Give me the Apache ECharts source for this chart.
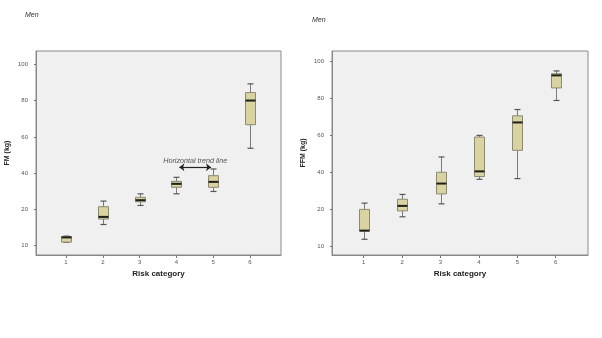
<!DOCTYPE html>
<html>
<head>
<meta charset="utf-8">
<script src="https://cdn.jsdelivr.net/npm/echarts@6/dist/echarts.min.js"></script>
<style>
  html, body { margin: 0; padding: 0; background: #ffffff; }
  #chart { width: 602px; height: 338px; }
</style>
</head>
<body>
<div id="chart"></div>
<script>
// Risk categories on the x axis
const categories = [1, 2, 3, 4, 5, 6];

// y tick positions and the labels printed at them
const yTickValues = [0, 20, 40, 60, 80, 100];
const yTickLabels = ['10', '20', '40', '60', '80', '100'];

// Fat mass (FM, kg) per risk category: whisker ends, quartiles, median
const fmMin    = [1.9, 11.7, 22.2, 28.6, 29.9, 53.7];
const fmQ1     = [2.0, 14.7, 24.2, 32.2, 32.2, 66.7];
const fmMedian = [4.6, 15.9, 25.1, 34.1, 35.2, 80.0];
const fmQ3     = [5.1, 21.5, 26.7, 35.5, 38.6, 84.4];
const fmMax    = [5.3, 24.6, 28.6, 37.7, 42.3, 89.2];

// Fat-free mass (FFM, kg) per risk category
const ffmMin    = [3.8, 16.0, 23.0, 36.3, 36.7, 79.0];
const ffmQ1     = [8.3, 19.2, 28.4, 37.8, 52.0, 85.8];
const ffmMedian = [8.5, 21.9, 34.0, 40.6, 67.1, 92.6];
const ffmQ3     = [20.0, 25.5, 40.1, 59.2, 70.7, 93.5];
const ffmMax    = [23.4, 28.1, 48.4, 60.1, 74.1, 95.0];

// Annotation between categories 4 and 5 of the FM panel
const trendText = 'Horizontal trend line';
const trendFrom = [4.08, 43.2];
const trendTo   = [4.94, 43.2];

function rows(mins, q1s, meds, q3s, maxs) {
  return categories.map((c, i) => [c, mins[i], q1s[i], meds[i], q3s[i], maxs[i]]);
}

const BOX_HALF = 5;
const CAP_HALF = 3;

function renderBox(params, api) {
  const x = api.value(0);
  const pMin = api.coord([x, api.value(1)]);
  const pQ1  = api.coord([x, api.value(2)]);
  const pMed = api.coord([x, api.value(3)]);
  const pQ3  = api.coord([x, api.value(4)]);
  const pMax = api.coord([x, api.value(5)]);
  const cx = Math.round(pMed[0]) + 0.5;
  const whisker = { stroke: '#7a7a7a', lineWidth: 1 };
  return {
    type: 'group',
    children: [
      { type: 'line', shape: { x1: cx, y1: pQ3[1], x2: cx, y2: pMax[1] }, style: whisker },
      { type: 'line', shape: { x1: cx, y1: pQ1[1], x2: cx, y2: pMin[1] }, style: whisker },
      { type: 'line', shape: { x1: cx - CAP_HALF, y1: pMax[1], x2: cx + CAP_HALF, y2: pMax[1] },
        style: { stroke: '#555', lineWidth: 1.2 } },
      { type: 'line', shape: { x1: cx - CAP_HALF, y1: pMin[1], x2: cx + CAP_HALF, y2: pMin[1] },
        style: { stroke: '#555', lineWidth: 1.2 } },
      { type: 'rect', shape: { x: cx - BOX_HALF, y: pQ3[1], width: BOX_HALF * 2, height: Math.max(pQ1[1] - pQ3[1], 1) },
        style: { fill: '#d8d3a1', stroke: '#8c8a70', lineWidth: 1 } },
      { type: 'line', shape: { x1: cx - BOX_HALF, y1: pMed[1], x2: cx + BOX_HALF, y2: pMed[1] },
        style: { stroke: '#1e1e1a', lineWidth: 2 } }
    ]
  };
}

const labelColor = '#555';

function xAxisFor(gridIndex, min, max) {
  return {
    type: 'value', gridIndex: gridIndex, min: min, max: max, position: 'bottom',
    name: 'Risk category', nameLocation: 'middle', nameGap: 14,
    nameTextStyle: { fontFamily: 'Arial, Liberation Sans', fontWeight: 'bold', fontSize: 8, color: '#222' },
    axisLine: { show: true, onZero: false, lineStyle: { color: '#888', width: 1 } },
    axisTick: { show: true, length: 3, customValues: categories, lineStyle: { color: '#777' } },
    axisLabel: { customValues: categories, fontSize: 6, color: labelColor, margin: 4,
                 fontFamily: 'Arial, Liberation Sans' },
    splitLine: { show: false }
  };
}

function yAxisFor(gridIndex, min, max, title) {
  return {
    type: 'value', gridIndex: gridIndex, min: min, max: max, position: 'left',
    name: title, nameLocation: 'middle', nameGap: 25, nameRotate: 90,
    nameTextStyle: { fontFamily: 'Arial, Liberation Sans', fontWeight: 'bold', fontSize: 7, color: '#222' },
    axisLine: { show: true, onZero: false, lineStyle: { color: '#888', width: 1 } },
    axisTick: { show: true, length: 2, customValues: yTickValues, lineStyle: { color: '#777' } },
    axisLabel: {
      customValues: yTickValues, fontSize: 6, color: labelColor, margin: 8,
      fontFamily: 'Arial, Liberation Sans',
      formatter: v => yTickLabels[yTickValues.indexOf(v)]
    },
    splitLine: { show: false }
  };
}

const chart = echarts.init(document.getElementById('chart'), null, { renderer: 'canvas' });

chart.setOption({
  animation: false,
  backgroundColor: '#ffffff',
  grid: [
    { left: 36, top: 51, width: 245, height: 204, show: true,
      backgroundColor: '#f0f0f0', borderColor: '#8a8a8a', borderWidth: 1 },
    { left: 332, top: 51, width: 256, height: 204, show: true,
      backgroundColor: '#f0f0f0', borderColor: '#8a8a8a', borderWidth: 1 }
  ],
  xAxis: [
    xAxisFor(0, 0.185, 6.842),
    xAxisFor(1, 0.174, 6.84)
  ],
  yAxis: [
    yAxisFor(0, -5.1, 107.3, 'FM (kg)'),
    yAxisFor(1, -4.7, 105.8, 'FFM (kg)')
  ],
  graphic: [
    { type: 'text', left: 25, top: 12,
      style: { text: 'Men', fontSize: 7, fontStyle: 'italic', fill: '#333', fontFamily: 'Arial, Liberation Sans' } },
    { type: 'text', left: 312, top: 17,
      style: { text: 'Men', fontSize: 7, fontStyle: 'italic', fill: '#333', fontFamily: 'Arial, Liberation Sans' } }
  ],
  series: [
    {
      type: 'custom', name: 'FM', xAxisIndex: 0, yAxisIndex: 0,
      renderItem: renderBox,
      encode: { x: 0, y: [1, 2, 3, 4, 5] },
      data: rows(fmMin, fmQ1, fmMedian, fmQ3, fmMax),
      silent: true
    },
    {
      type: 'custom', name: 'FFM', xAxisIndex: 1, yAxisIndex: 1,
      renderItem: renderBox,
      encode: { x: 0, y: [1, 2, 3, 4, 5] },
      data: rows(ffmMin, ffmQ1, ffmMedian, ffmQ3, ffmMax),
      silent: true
    },
    {
      type: 'line', name: 'trend', xAxisIndex: 0, yAxisIndex: 0, data: [],
      markLine: {
        silent: true,
        symbol: ['arrow', 'arrow'],
        symbolSize: [6, 5],
        lineStyle: { color: '#222', width: 1.2, type: 'solid' },
        label: {
          show: true, position: 'insideMiddleTop', distance: 3,
          formatter: trendText, fontSize: 7.2, fontStyle: 'italic', color: '#555',
          fontFamily: 'Arial, Liberation Sans'
        },
        data: [[{ coord: trendFrom }, { coord: trendTo }]]
      }
    }
  ]
});
</script>
</body>
</html>
